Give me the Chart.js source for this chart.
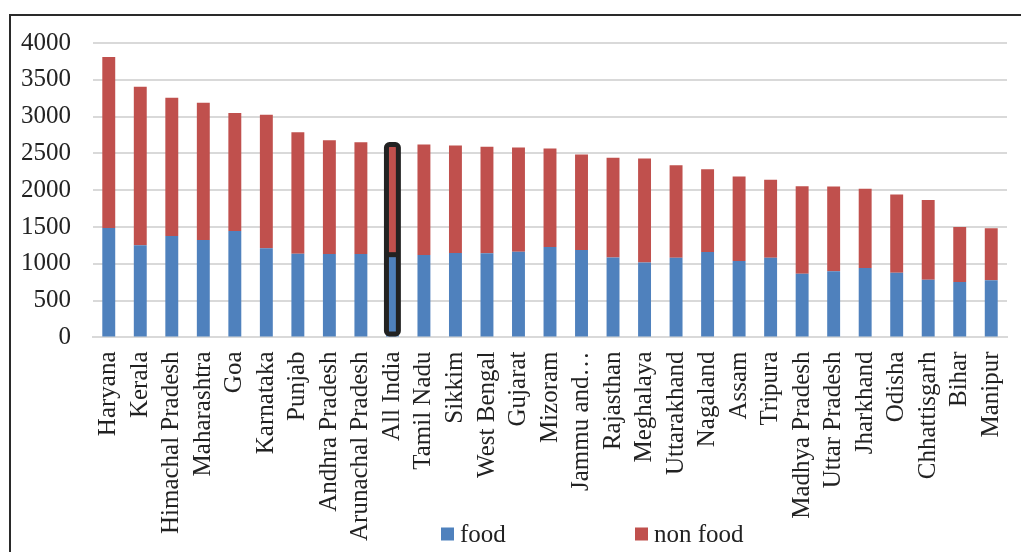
<!DOCTYPE html>
<html>
<head>
<meta charset="utf-8">
<title>Monthly per capita expenditure: food and non food</title>
<script src="https://cdn.jsdelivr.net/npm/chart.js@4/dist/chart.umd.min.js"></script>
<style>
  html, body { margin: 0; padding: 0; background: #fff; }
  #wrap { position: relative; width: 1021px; height: 552px; overflow: hidden; }
  #frame {
    position: absolute; left: 9px; top: 14px; right: -10px; bottom: -10px;
    border-top: 2px solid #2a2a2a; border-left: 2px solid #2a2a2a;
    pointer-events: none;
  }
  canvas { display: block; }
</style>
</head>
<body>
<div id="wrap">
  <canvas id="chart" width="1021" height="552"></canvas>
  <div id="frame"></div>
</div>
<script>
const categories = ['Haryana', 'Kerala', 'Himachal Pradesh', 'Maharashtra', 'Goa', 'Karnataka',
  'Punjab', 'Andhra Pradesh', 'Arunachal Pradesh', 'All India', 'Tamil Nadu', 'Sikkim',
  'West Bengal', 'Gujarat', 'Mizoram', 'Jammu and\u2026', 'Rajasthan', 'Meghalaya',
  'Uttarakhand', 'Nagaland', 'Assam', 'Tripura', 'Madhya Pradesh', 'Uttar Pradesh',
  'Jharkhand', 'Odisha', 'Chhattisgarh', 'Bihar', 'Manipur'];

const foodValues = [1488, 1252, 1380, 1325, 1448, 1211, 1139, 1134, 1134, 1125, 1121, 1148,
  1143, 1166, 1230, 1189, 1088, 1020, 1084, 1162, 1039, 1084, 867, 898, 944, 880, 785, 754, 776];

const nonFoodValues = [2322, 2155, 1877, 1864, 1600, 1814, 1650, 1546, 1519, 1495, 1501, 1460,
  1447, 1415, 1337, 1297, 1353, 1411, 1256, 1124, 1147, 1057, 1187, 1152, 1075, 1061, 1084, 748, 707];

const yTicks = [0, 500, 1000, 1500, 2000, 2500, 3000, 3500, 4000];

const seriesNames = ['food', 'non food'];
const highlightCategory = 'All India';

const FOOD_COLOR = '#4F81BD';
const NONFOOD_COLOR = '#C0504D';
const TEXT_COLOR = '#222222';
const FONT_FAMILY = '"Liberation Serif", "Times New Roman", serif';
const Y_LABEL_PAD = 22;

// Thick dark outline around the highlighted stacked bar, taken from the bar elements
const highlightPlugin = {
  id: 'highlightBar',
  afterDatasetsDraw(chart) {
    const idx = categories.indexOf(highlightCategory);
    if (idx < 0) return;
    const low = chart.getDatasetMeta(0).data[idx];
    const high = chart.getDatasetMeta(1).data[idx];
    if (!low || !high) return;
    const ctx = chart.ctx;
    const half = low.width / 2 - 0.5;
    const left = low.x - half;
    const right = low.x + half;
    const top = high.y;
    const bottom = low.base - 2.5;
    ctx.save();
    ctx.strokeStyle = '#222222';
    ctx.lineWidth = 5;
    ctx.lineJoin = 'round';
    ctx.beginPath();
    if (ctx.roundRect) {
      ctx.roundRect(left, top, right - left, bottom - top, 3);
    } else {
      ctx.rect(left, top, right - left, bottom - top);
    }
    ctx.stroke();
    ctx.beginPath();
    ctx.moveTo(left, low.y);
    ctx.lineTo(right, low.y);
    ctx.stroke();
    ctx.restore();
  }
};

// Legend row below the plot: square swatch followed by series name
const legendPlugin = {
  id: 'bottomLegend',
  afterDraw(chart) {
    const ctx = chart.ctx;
    const items = chart.data.datasets.map(ds => ({ text: ds.label, color: ds.backgroundColor }));
    const slots = [441, 635];
    const y = 534;
    const box = 13;
    ctx.save();
    ctx.font = '25px ' + FONT_FAMILY;
    ctx.textBaseline = 'middle';
    ctx.textAlign = 'left';
    items.forEach((item, i) => {
      const x = slots[i];
      ctx.fillStyle = item.color;
      ctx.fillRect(x, y - box / 2, box, box);
      ctx.fillStyle = TEXT_COLOR;
      ctx.fillText(item.text, x + box + 6, y + 1);
    });
    ctx.restore();
  }
};

new Chart(document.getElementById('chart'), {
  type: 'bar',
  data: {
    labels: categories,
    datasets: [
      { label: seriesNames[0], data: foodValues, backgroundColor: FOOD_COLOR, borderWidth: 0 },
      { label: seriesNames[1], data: nonFoodValues, backgroundColor: NONFOOD_COLOR, borderWidth: 0 }
    ]
  },
  options: {
    responsive: false,
    animation: false,
    devicePixelRatio: 1,
    layout: { padding: { left: 21, right: 14, top: 43, bottom: -3 } },
    datasets: {
      bar: { categoryPercentage: 1.0, barPercentage: 0.41 }
    },
    plugins: {
      legend: { display: false },
      tooltip: { enabled: false }
    },
    scales: {
      x: {
        stacked: true,
        grid: { display: false, drawTicks: false },
        border: { display: true, color: '#d9d9d9', width: 2 },
        ticks: {
          color: TEXT_COLOR,
          font: { family: FONT_FAMILY, size: 25 },
          minRotation: 90,
          maxRotation: 90,
          autoSkip: false,
          padding: 14
        },
        // vertical labels fit inside their category slots, so no side padding is needed
        afterFit(scale) {
          scale.paddingLeft = 0;
          scale.paddingRight = 0;
        }
      },
      y: {
        stacked: true,
        min: yTicks[0],
        max: yTicks[yTicks.length - 1],
        afterBuildTicks(axis) { axis.ticks = yTicks.map(v => ({ value: v })); },
        grid: { color: '#d9d9d9', lineWidth: 2, drawTicks: false },
        border: { display: false },
        ticks: {
          color: TEXT_COLOR,
          font: { family: FONT_FAMILY, size: 25 },
          padding: Y_LABEL_PAD,
          callback: v => String(v)
        },
        // axis width = widest tick label + gap to the plot
        afterFit(scale) {
          const ctx = scale.ctx;
          ctx.save();
          ctx.font = '25px ' + FONT_FAMILY;
          const widest = Math.max(...yTicks.map(v => ctx.measureText(String(v)).width));
          ctx.restore();
          scale.width = Math.ceil(widest) + Y_LABEL_PAD;
        }
      }
    }
  },
  plugins: [highlightPlugin, legendPlugin]
});
</script>
</body>
</html>
